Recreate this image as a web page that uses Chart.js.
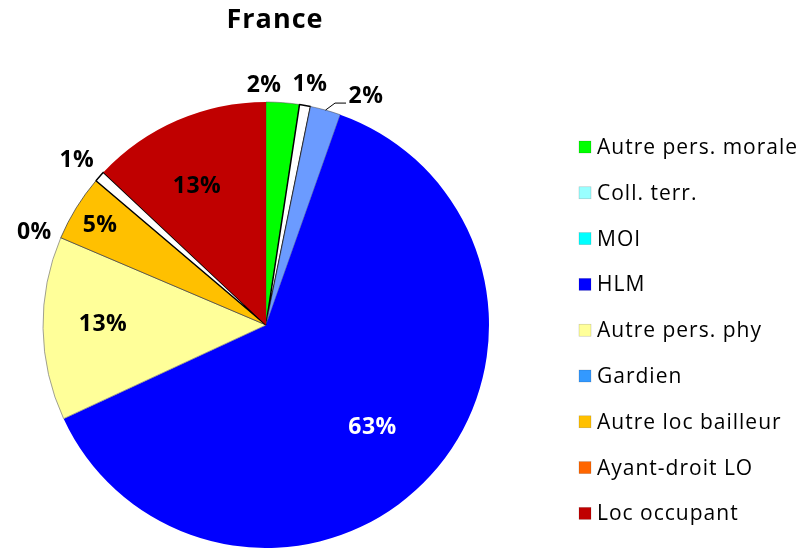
<!DOCTYPE html>
<html>
<head>
<meta charset="utf-8">
<script src="https://cdn.jsdelivr.net/npm/chart.js@4.4.1/dist/chart.umd.min.js"></script>
<style>
  html, body { margin: 0; padding: 0; background: #ffffff; }
  #wrap { width: 800px; height: 548px; position: relative; }
</style>
</head>
<body>
<div id="wrap"><canvas id="c" width="800" height="548"></canvas></div>
<script>
// ---- data ----
const title = 'France';
const categories = ['Autre pers. morale', 'Coll. terr.', 'MOI', 'HLM', 'Autre pers. phy', 'Gardien', 'Autre loc bailleur', 'Ayant-droit LO', 'Loc occupant'];
const values = [2.4, 0.8, 2.2, 62.7, 13.3, 0, 4.8, 0.8, 13.0];
const sliceColors = ['#00ff00', '#ffffff', '#6b9bff', '#0000ff', '#ffff99', '#3399ff', '#ffc000', '#ffffff', '#c00000'];
const legendColors = ['#00ff00', '#99ffff', '#00ffff', '#0000ff', '#ffff99', '#3399ff', '#ffc000', '#ff6600', '#c00000'];

// ---- styling ----
const FONT = "'Open Sans', sans-serif";
const borderColors = ['#444', '#000', '#444', '#0000ff', '#888', '#333', '#444', '#000', '#c00000'];
const borderWidths = [0.5, 1.5, 0.5, 0, 0.8, 1, 0.8, 1.5, 0];
// [radius factor, dx, dy] for each slice label
const labelPlace = [
  [1.077, -20, 0], [1.077, 2, -4], [1.0, 40.5, -14], [0.646, 0, 6], [0.731, 0, -3.5],
  [1.129, 0, 6], [0.874, 0, 2.4], [1.137, 0, 4], [0.695, -7.4, 3.3]
];
const labelColors = ['#000', '#000', '#000', '#fff', '#000', '#000', '#000', '#000', '#000'];

const sliceLabels = {
  id: 'sliceLabels',
  afterDatasetsDraw(chart) {
    const ctx = chart.ctx;
    const meta = chart.getDatasetMeta(0);
    ctx.save();
    ctx.font = "bold 23px " + FONT;
    ctx.letterSpacing = '0.5px';
    ctx.textAlign = 'center';
    ctx.textBaseline = 'middle';
    meta.data.forEach((arc, i) => {
      const p = arc.getProps(['x', 'y', 'startAngle', 'endAngle', 'outerRadius'], true);
      const mid = (p.startAngle + p.endAngle) / 2;
      const [f, dx, dy] = labelPlace[i];
      const lx = p.x + Math.cos(mid) * p.outerRadius * f + dx;
      const ly = p.y + Math.sin(mid) * p.outerRadius * f + dy;
      if (i === 2) {
        const ex = p.x + Math.cos(mid) * p.outerRadius;
        const ey = p.y + Math.sin(mid) * p.outerRadius;
        ctx.beginPath();
        ctx.strokeStyle = '#000';
        ctx.lineWidth = 1;
        ctx.moveTo(ex, ey);
        ctx.lineTo(lx - 31, ly + 7);
        ctx.lineTo(lx - 20, ly + 7);
        ctx.stroke();
      }
      ctx.fillStyle = labelColors[i];
      ctx.fillText(Math.round(values[i]) + '%', lx, ly);
    });
    ctx.restore();
  }
};

const titleAndLegend = {
  id: 'titleAndLegend',
  afterDraw(chart) {
    const ctx = chart.ctx;
    ctx.save();
    ctx.fillStyle = '#000';
    ctx.font = "bold 27px " + FONT;
    ctx.letterSpacing = '1px';
    ctx.textAlign = 'center';
    ctx.textBaseline = 'middle';
    ctx.fillText(title, 275, 20);
    ctx.font = "21px " + FONT;
    ctx.letterSpacing = '1px';
    ctx.textAlign = 'left';
    categories.forEach((c, i) => {
      const ry = 147 + i * 45.8;
      ctx.fillStyle = legendColors[i];
      ctx.fillRect(579, ry - 6, 12, 12);
      ctx.strokeStyle = 'rgba(0,0,0,0.25)';
      ctx.lineWidth = 0.5;
      ctx.strokeRect(579, ry - 6, 12, 12);
      ctx.fillStyle = '#000';
      ctx.fillText(c, 597, ry + 1);
    });
    ctx.restore();
  }
};

new Chart(document.getElementById('c'), {
  type: 'pie',
  data: {
    labels: categories,
    datasets: [{
      data: values,
      backgroundColor: sliceColors,
      borderColor: borderColors,
      borderWidth: borderWidths,
      hoverOffset: 0,
      offset: 0,
      radius: 223
    }]
  },
  options: {
    responsive: false,
    animation: false,
    events: [],
    layout: { padding: { top: 102, bottom: 0, left: 43, right: 311 } },
    plugins: {
      legend: { display: false },
      title: { display: false },
      tooltip: { enabled: false }
    }
  },
  plugins: [sliceLabels, titleAndLegend]
});
</script>
</body>
</html>
